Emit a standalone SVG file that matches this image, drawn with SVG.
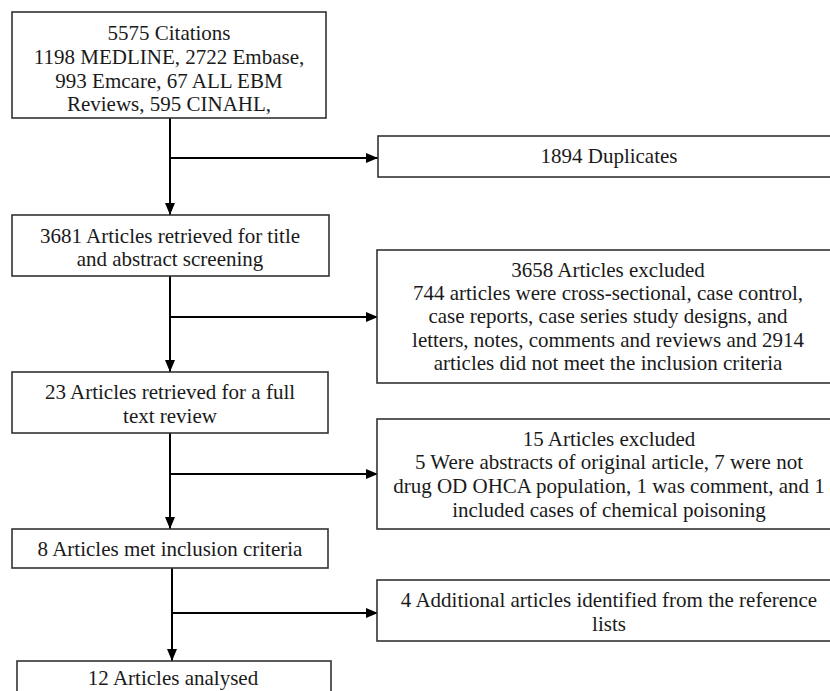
<svg xmlns="http://www.w3.org/2000/svg" width="830" height="691" viewBox="0 0 830 691">
<defs>
<style>
.box{fill:#fff;stroke:#333;stroke-width:1.6}
.t{font-family:"Liberation Serif","Times New Roman",serif;font-size:21px;fill:#1a1a1a;text-anchor:middle}
.c{fill:none;stroke:#000;stroke-width:2}
</style>
<marker id="ah" markerUnits="userSpaceOnUse" markerWidth="12" markerHeight="12" viewBox="0 0 12 12" refX="12" refY="6" orient="auto">
<path d="M0,1 L12,6 L0,11 Z" fill="#000"/>
</marker>
</defs>
<rect width="830" height="691" fill="#fff"/>
<g id="connectors">
<path class="c" d="M170,118 V215" marker-end="url(#ah)"/>
<path class="c" d="M170,158 H378" marker-end="url(#ah)"/>
<path class="c" d="M170,276 V372" marker-end="url(#ah)"/>
<path class="c" d="M170,317 H378" marker-end="url(#ah)"/>
<path class="c" d="M170,433 V529" marker-end="url(#ah)"/>
<path class="c" d="M170,474 H378" marker-end="url(#ah)"/>
<path class="c" d="M172,568 V661" marker-end="url(#ah)"/>
<path class="c" d="M172,613 H378" marker-end="url(#ah)"/>
</g>
<g id="citations">
<rect class="box" x="12" y="12" width="314" height="106"/>
<text class="t" x="169" y="40">5575 Citations</text>
<text class="t" x="169" y="64">1198 MEDLINE, 2722 Embase,</text>
<text class="t" x="169" y="88">993 Emcare, 67 ALL EBM</text>
<text class="t" x="169" y="111">Reviews, 595 CINAHL,</text>
</g>
<g id="duplicates">
<rect class="box" x="378" y="136" width="462" height="41"/>
<text class="t" x="609" y="163">1894 Duplicates</text>
</g>
<g id="screening">
<rect class="box" x="12" y="215" width="317" height="61"/>
<text class="t" x="170" y="243">3681 Articles retrieved for title</text>
<text class="t" x="170" y="266">and abstract screening</text>
</g>
<g id="excluded1">
<rect class="box" x="377" y="250" width="463" height="133"/>
<text class="t" x="608" y="277">3658 Articles excluded</text>
<text class="t" x="608" y="300">744 articles were cross-sectional, case control,</text>
<text class="t" x="608" y="323">case reports, case series study designs, and</text>
<text class="t" x="608" y="347">letters, notes, comments and reviews and 2914</text>
<text class="t" x="608" y="370">articles did not meet the inclusion criteria</text>
</g>
<g id="fulltext">
<rect class="box" x="12" y="372" width="316" height="61"/>
<text class="t" x="170" y="399">23 Articles retrieved for a full</text>
<text class="t" x="170" y="423">text review</text>
</g>
<g id="excluded2">
<rect class="box" x="377" y="419" width="463" height="110"/>
<text class="t" x="609" y="446">15 Articles excluded</text>
<text class="t" x="609" y="469">5 Were abstracts of original article, 7 were not</text>
<text class="t" x="609" y="493">drug OD OHCA population, 1 was comment, and 1</text>
<text class="t" x="609" y="517">included cases of chemical poisoning</text>
</g>
<g id="included">
<rect class="box" x="12" y="529" width="316" height="39"/>
<text class="t" x="170" y="556">8 Articles met inclusion criteria</text>
</g>
<g id="additional">
<rect class="box" x="377" y="580" width="463" height="61"/>
<text class="t" x="609" y="607">4 Additional articles identified from the reference</text>
<text class="t" x="609" y="631">lists</text>
</g>
<g id="analysed">
<rect class="box" x="17" y="661" width="314" height="40"/>
<text class="t" x="173" y="685">12 Articles analysed</text>
</g>
</svg>
